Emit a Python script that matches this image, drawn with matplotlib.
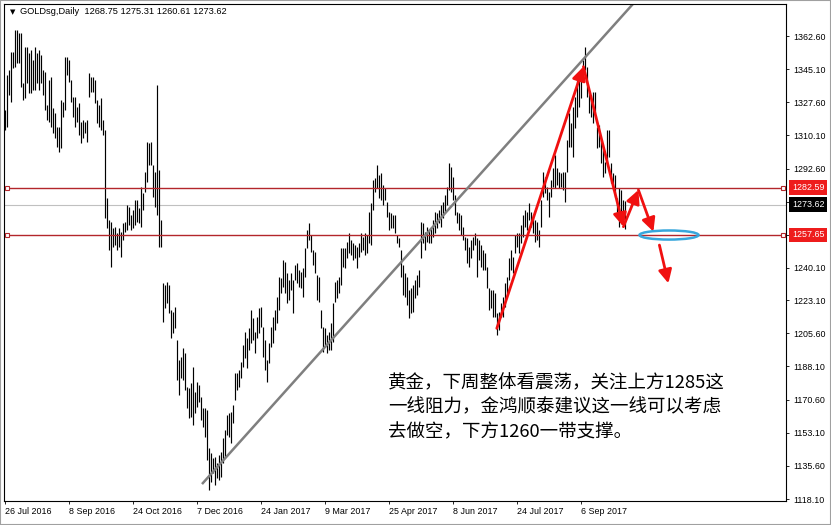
import matplotlib
matplotlib.use('Agg')
import matplotlib.pyplot as plt
from matplotlib import transforms
from matplotlib.patches import Ellipse, Rectangle

plt.rcParams['font.family'] = ['Liberation Sans', 'DejaVu Sans']

# daily bars (high / low per bar, oldest first)
highs = [
    1323.5, 1342.0, 1344.6, 1354.2, 1354.2, 1365.8, 1365.8, 1364.2, 1364.2, 1337.8,
    1356.8, 1356.8, 1353.6, 1355.2, 1349.9, 1356.8, 1353.6, 1355.2, 1352.6, 1344.6,
    1343.6, 1326.1, 1339.4, 1340.9, 1324.6, 1321.9, 1314.5, 1314.5, 1328.8, 1327.7,
    1351.5, 1351.5, 1349.9, 1339.4, 1330.4, 1330.4, 1325.1, 1327.2, 1317.2, 1318.2,
    1317.2, 1318.2, 1343.1, 1340.9, 1340.9, 1339.4, 1328.8, 1326.1, 1329.9, 1318.2,
    1313.0, 1277.1, 1265.4, 1264.4, 1261.2, 1261.7, 1258.6, 1261.2, 1259.1, 1263.8,
    1264.4, 1273.3, 1272.3, 1268.1, 1270.7, 1276.0, 1276.0, 1271.8, 1282.9, 1279.7,
    1290.8, 1306.6, 1306.1,
    1306.6, 1294.5, 1290.8, 1336.7, 1291.8, 1265.4, 1232.2, 1231.1, 1232.7, 1231.1,
    1217.9, 1216.8, 1219.5, 1202.1, 1191.5, 1193.1, 1197.8, 1195.2, 1177.2, 1176.7,
    1179.4, 1187.8, 1174.6, 1179.9, 1178.3, 1172.0, 1166.2, 1166.2, 1165.1, 1145.0,
    1142.4, 1139.7, 1140.3, 1137.1, 1141.3, 1142.9, 1150.3, 1154.5, 1162.5, 1163.5,
    1164.0, 1167.7, 1184.6, 1184.6, 1186.2, 1190.4, 1199.4, 1206.3, 1203.1, 1208.4,
    1217.9, 1213.7, 1206.3, 1214.2, 1219.0, 1219.5, 1209.0, 1202.1, 1191.5, 1200.5,
    1209.0, 1214.2, 1217.9, 1224.8, 1235.3, 1234.8, 1244.3, 1243.2, 1237.4, 1233.7,
    1237.4, 1233.7, 1241.7, 1242.7, 1239.0, 1238.0, 1240.1,
    1250.6, 1260.1, 1263.8, 1257.5, 1249.6, 1248.5, 1236.4, 1235.3, 1217.9, 1209.0,
    1208.4, 1204.7, 1206.3, 1211.0, 1221.6, 1232.7, 1233.7, 1235.3, 1250.6, 1250.6,
    1250.6, 1253.8, 1258.6, 1254.9, 1253.3, 1252.2, 1251.2, 1253.3, 1258.6, 1256.5,
    1258.6, 1257.5, 1269.7, 1274.4, 1286.5, 1287.6, 1294.5, 1289.2, 1290.2, 1283.9,
    1282.3, 1274.9, 1269.7, 1269.1, 1268.1, 1268.1, 1257.5, 1255.9, 1249.6, 1241.7,
    1237.4, 1235.3, 1228.5, 1229.5, 1231.1, 1233.7, 1236.4, 1239.0, 1264.4, 1263.8,
    1259.1, 1261.7, 1260.1, 1261.7, 1265.4, 1269.7, 1269.1, 1270.7, 1273.3, 1274.9,
    1278.6, 1282.9, 1295.5, 1293.4, 1288.1, 1278.6, 1269.7, 1269.1, 1268.1, 1261.7,
    1256.5, 1255.9, 1251.2, 1254.9, 1256.5, 1258.6, 1255.9, 1254.9, 1252.2, 1249.6,
    1248.0, 1240.6, 1229.5, 1228.5, 1228.5, 1226.9, 1216.3, 1216.8, 1221.6, 1224.8,
    1232.2, 1235.3, 1245.4, 1249.6, 1245.9, 1257.5, 1258.6, 1258.6, 1262.8, 1268.1,
    1270.7, 1269.7, 1274.4, 1269.7, 1268.1, 1265.4, 1264.4, 1260.1, 1276.0, 1290.8,
    1288.1, 1282.9, 1280.2, 1286.5, 1292.9, 1299.8, 1292.9, 1290.8, 1290.2, 1290.8,
    1290.8, 1307.7, 1321.9, 1316.6, 1325.1, 1330.4, 1339.4, 1340.9, 1343.6, 1349.9,
    1356.8,
    1346.2, 1333.0, 1331.4, 1333.0, 1333.0, 1314.5, 1315.6, 1307.7, 1302.4, 1296.1,
    1313.0, 1313.0, 1295.5, 1290.2, 1289.2, 1277.1, 1282.3, 1281.3, 1276.0, 1275.31,
]
lows = [
    1313.0, 1314.5, 1331.4, 1327.7, 1345.7, 1346.2, 1348.3, 1348.3, 1335.7, 1328.8,
    1329.9, 1337.8, 1332.5, 1332.5, 1334.1, 1334.1, 1337.8, 1334.1, 1337.8, 1331.4,
    1323.5, 1318.2, 1317.2, 1314.5, 1311.4, 1308.7, 1304.0, 1301.3, 1303.4, 1319.8,
    1323.5, 1342.0, 1338.3, 1327.7, 1319.8, 1314.5, 1317.2, 1310.3, 1306.1, 1308.7,
    1311.4, 1306.6, 1330.4, 1333.0, 1333.0, 1327.2, 1316.7, 1314.5, 1313.0, 1310.3,
    1266.5, 1261.2, 1249.6, 1240.6, 1251.2, 1252.2, 1249.6, 1251.2, 1245.9, 1254.9,
    1259.1, 1260.1, 1262.8, 1260.1, 1261.2, 1262.8, 1264.4, 1263.8, 1261.7, 1270.7,
    1280.2, 1285.5, 1294.5,
    1294.5, 1277.6, 1272.3, 1268.1, 1251.2, 1251.2, 1211.6, 1219.0, 1221.6, 1216.3,
    1203.1, 1205.7, 1208.4, 1180.9, 1173.0, 1182.0, 1180.9, 1175.7, 1166.2, 1160.9,
    1161.4, 1157.2, 1163.5, 1166.7, 1169.3, 1159.8, 1156.1, 1150.8, 1138.7, 1122.9,
    1127.1, 1131.8, 1125.5, 1129.2, 1128.1, 1129.7, 1137.1, 1140.3, 1151.9, 1150.8,
    1147.7, 1158.2, 1170.4, 1175.7, 1177.2, 1182.0, 1187.8, 1192.5, 1187.3, 1196.8,
    1200.5, 1202.1, 1195.2, 1203.1, 1205.7, 1208.9, 1193.1, 1186.2, 1179.9, 1189.9,
    1198.4, 1200.5, 1207.3, 1211.0, 1217.9, 1226.9, 1230.0, 1226.9, 1221.6, 1223.2,
    1228.5, 1216.3, 1233.7, 1232.2, 1230.0, 1229.5, 1224.8,
    1235.3, 1250.6, 1254.9, 1248.5, 1241.7, 1237.4, 1223.2, 1222.1, 1208.4, 1195.7,
    1198.4, 1195.2, 1196.8, 1196.8, 1201.0, 1222.1, 1224.2, 1226.9, 1231.1, 1240.6,
    1240.1, 1245.4, 1248.0, 1246.9, 1244.3, 1245.4, 1240.1, 1245.9, 1248.5, 1249.6,
    1246.9, 1248.0, 1253.3, 1252.2, 1270.7, 1280.2, 1282.3, 1277.1, 1276.0, 1273.3,
    1276.0, 1267.0, 1260.1, 1261.2, 1261.2, 1258.6, 1253.3, 1251.2, 1235.3, 1225.8,
    1224.8, 1220.5, 1213.7, 1216.3, 1216.8, 1224.2, 1225.8, 1230.0, 1245.4, 1253.3,
    1249.6, 1253.8, 1253.3, 1253.3, 1256.5, 1258.6, 1261.2, 1263.8, 1261.7, 1266.5,
    1269.7, 1273.3, 1281.3, 1280.2, 1276.0, 1268.1, 1263.8, 1260.1, 1257.5, 1254.9,
    1249.6, 1242.7, 1240.6, 1245.4, 1249.6, 1252.2, 1235.3, 1244.3, 1240.6, 1239.0,
    1239.0, 1229.5, 1217.9, 1219.0, 1214.2, 1214.2, 1204.7, 1207.3, 1214.2, 1214.2,
    1219.5, 1226.9, 1233.7, 1239.0, 1237.4, 1248.0, 1251.2, 1248.0, 1253.3, 1256.5,
    1261.7, 1260.1, 1265.4, 1261.7, 1258.6, 1253.8, 1254.9, 1251.2, 1261.7, 1277.6,
    1279.7, 1276.0, 1267.0, 1277.6, 1282.9, 1282.3, 1283.9, 1282.3, 1282.9, 1281.3,
    1274.9, 1290.8, 1304.0, 1304.0, 1298.7, 1314.0, 1319.8, 1325.1, 1329.9, 1340.9,
    1344.6,
    1330.4, 1321.9, 1319.8, 1316.6, 1321.9, 1303.4, 1304.0, 1295.5, 1288.1, 1290.2,
    1295.5, 1298.7, 1285.0, 1281.3, 1277.6, 1269.1, 1261.7, 1269.1, 1263.8, 1260.61,
]

date_labels = ['26 Jul 2016', '8 Sep 2016', '24 Oct 2016', '7 Dec 2016', '24 Jan 2017',
               '9 Mar 2017', '25 Apr 2017', '8 Jun 2017', '24 Jul 2017', '6 Sep 2017']
date_bars = [0, 32, 64, 96, 128, 160, 192, 224, 256, 288]

price_ticks = [1362.6, 1345.1, 1327.6, 1310.1, 1292.6, 1275.1, 1257.6, 1240.1,
               1223.1, 1205.6, 1188.1, 1170.6, 1153.1, 1135.6, 1118.1]

last_ohlc = [1268.75, 1275.31, 1260.61, 1273.62]
resistance = 1282.59
support = 1257.65

trend_line = [(98.5, 1126.0), (320.0, 1386.6)]
arrow_path = [(245.9, 1208.2), (289.2, 1346.4), (309.2, 1261.9), (316.7, 1281.3), (324.2, 1259.3)]
down_arrow = [(327.2, 1252.2), (331.7, 1232.0)]
target_zone = (332.0, 1257.5, 29.5, 4.8)   # centre x, centre y, width, height

note_lines = ['黄金，下周整体看震荡，关注上方1285这',
              '一线阻力，金鸿顺泰建议这一线可以考虑',
              '去做空，下方1260一带支撑。']

W, H = 831, 525
fig = plt.figure(figsize=(W / 100, H / 100), dpi=100)
fig.patch.set_facecolor('white')
ax = fig.add_axes([4 / W, 24 / H, 782 / W, 497 / H])

x = list(range(len(highs)))
ax.vlines(x, lows, highs, color='black', lw=0.85)

ax.set_xlim(-0.5, 390.5)
ax.set_ylim(1117.05, 1379.5)

# bid line and the two horizontal levels
ax.axhline(last_ohlc[3], color='#c0c0c0', lw=0.8, zorder=1)
lvl_color = '#b3262b'
for lvl in (resistance, support):
    ax.axhline(lvl, color=lvl_color, lw=1.0, zorder=2)
    ax.plot([1, 389], [lvl, lvl], 's', ms=3.2, mfc='white', mec=lvl_color, mew=0.8,
            zorder=3, clip_on=False)

# trend line
ax.plot([p[0] for p in trend_line], [p[1] for p in trend_line], color='#7f7f7f', lw=1.8,
        solid_capstyle='butt', zorder=2)

# red arrows
arrow_kw = dict(arrowstyle='-|>,head_length=0.5,head_width=0.25', color='#f01010', lw=2.0,
                mutation_scale=16, shrinkA=0, shrinkB=0)
for a, b in zip(arrow_path[:-1], arrow_path[1:]):
    ax.annotate('', xy=b, xytext=a, arrowprops=arrow_kw, zorder=5)
ax.annotate('', xy=down_arrow[1], xytext=down_arrow[0], arrowprops=arrow_kw,
            annotation_clip=False, zorder=5)

cx, cy, ew, eh = target_zone
ax.add_patch(Ellipse((cx, cy), ew, eh, fill=False, ec='#38a7dc', lw=1.8, zorder=4))

# axes styling
for s in ax.spines.values():
    s.set_color('black')
    s.set_linewidth(0.8)
ax.yaxis.tick_right()
ax.set_yticks(price_ticks)
# the two labels sitting under the price boxes are hidden, as on the terminal
hidden = {1275.1, 1257.6}
ax.set_yticklabels(['' if v in hidden else f'{v:.2f}' for v in price_ticks])
ax.tick_params(axis='y', direction='out', length=2.5, width=0.6, pad=2.5, labelsize=6.4)
ax.set_xticks(date_bars)
ax.set_xticklabels(date_labels)
ax.tick_params(axis='x', direction='out', length=2.5, width=0.6, pad=1.5, labelsize=6.4)
for lab in ax.get_xticklabels():
    lab.set_ha('left')

# price boxes on the right scale
blend = transforms.blended_transform_factory(fig.transFigure, ax.transData)
for val, fc in ((resistance, '#ee1c1c'), (last_ohlc[3], 'black'), (support, '#ee1c1c')):
    fig.text(792 / W, val, f'{val:.2f}', transform=blend, color='white', fontsize=6.4,
             ha='left', va='center', zorder=5,
             bbox=dict(boxstyle='square,pad=0.3', fc=fc, ec='none'))

# header
fig.text(10 / W, 1 - 12 / H, '▼', fontsize=5, family='DejaVu Sans', va='center', ha='left')
fig.text(20 / W, 1 - 12 / H, 'GOLDsg,Daily  ' + ' '.join(f'{v:.2f}' for v in last_ohlc),
         fontsize=6.7, va='center', ha='left')

# comment text
for i, line in enumerate(note_lines):
    fig.text(388 / W, 1 - (383 + 24.5 * i) / H, line, fontsize=13.3,
             family=['Noto Sans CJK SC', 'DejaVu Sans'], va='center', ha='left')

fig.add_artist(Rectangle((0, 0), 1, 1, transform=fig.transFigure, fill=False,
                         ec='#a0a0a0', lw=1.5))

fig.savefig('out.png', dpi=100)
